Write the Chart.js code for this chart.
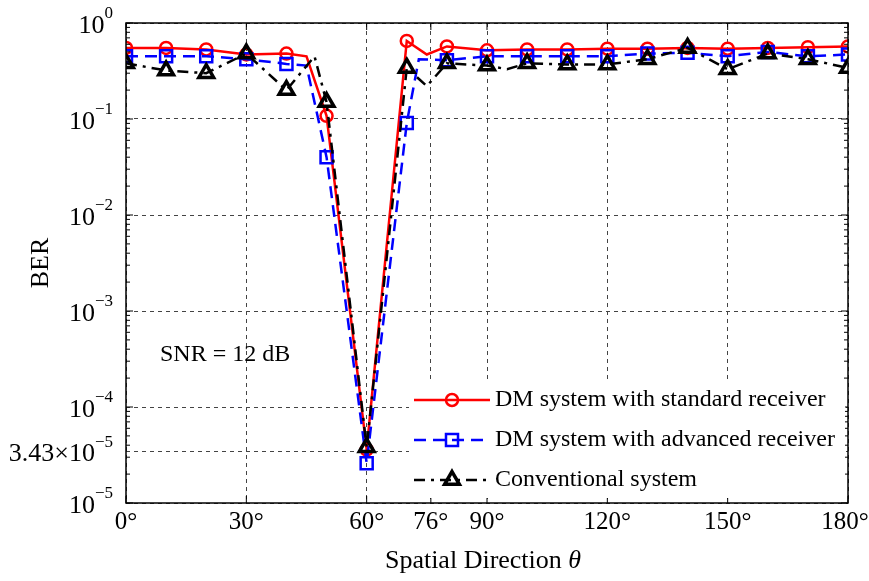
<!DOCTYPE html>
<html>
<head>
<meta charset="utf-8">
<script src="https://cdn.jsdelivr.net/npm/chart.js@4.4.0/dist/chart.umd.min.js"></script>
<style>
  html, body { margin: 0; padding: 0; background: #fff; }
</style>
</head>
<body>
<canvas id="berChart" width="869" height="581"></canvas>
<script>
// Datos (ángulo en grados, BER)
const angStd = [0, 10, 20, 30, 40, 45, 50, 60, 70, 75, 80, 90, 100, 110, 120, 130, 140, 150, 160, 170, 180];
const berStd = [0.55, 0.55, 0.53, 0.47, 0.48, 0.45, 0.108, 3.6e-5, 0.65, 0.47, 0.57, 0.52, 0.53, 0.53, 0.54, 0.54, 0.55, 0.54, 0.55, 0.56, 0.57];

const angAdv = [0, 10, 20, 30, 40, 45, 50, 60, 70, 73, 80, 90, 100, 110, 120, 130, 140, 150, 160, 170, 180];
const berAdv = [0.45, 0.45, 0.45, 0.42, 0.375, 0.36, 0.04, 2.6e-5, 0.091, 0.42, 0.41, 0.45, 0.45, 0.45, 0.45, 0.48, 0.49, 0.45, 0.5, 0.45, 0.47];

const angConv = [0, 10, 20, 30, 40, 47, 50, 60, 70, 75, 80, 90, 95, 100, 110, 120, 130, 140, 150, 160, 170, 180];
const berConv = [0.38, 0.32, 0.30, 0.48, 0.2, 0.45, 0.15, 3.8e-5, 0.34, 0.22, 0.38, 0.36, 0.33, 0.38, 0.37, 0.37, 0.42, 0.55, 0.33, 0.48, 0.42, 0.34];

const xTickValues = [0, 30, 60, 76, 90, 120, 150, 180];
const yTickValues = [1, 0.1, 0.01, 0.001, 1e-4, 3.43e-5, 1e-5];
const yTickMant = ['', '', '', '', '', '3.43×', ''];
const yTickExp = ['0', '−1', '−2', '−3', '−4', '−5', '−5'];

const serie = ['DM system with standard receiver', 'DM system with advanced receiver', 'Conventional system'];

const FUENTE = '"Liberation Serif", "Times New Roman", serif';

function aPuntos(xs, ys) {
    return xs.map((x, i) => ({ x: x, y: ys[i] }));
}

// Marcadores sólo cada 10 grados
function radioMarcador(r) {
    return ctx => (ctx.raw && ctx.raw.x % 10 === 0 ? r : 0);
}

function dibujarPotencia(ctx, xDer, y, mant, exp) {
    const fBase = '26px ' + FUENTE;
    const fExp = '17px ' + FUENTE;
    ctx.font = fExp;
    const ew = ctx.measureText(exp).width;
    ctx.font = fBase;
    const txt = mant + '10';
    const bw = ctx.measureText(txt).width;
    ctx.textAlign = 'left';
    ctx.textBaseline = 'middle';
    ctx.fillText(txt, xDer - ew - bw, y + 3);
    ctx.font = fExp;
    ctx.fillText(exp, xDer - ew, y - 9);
}

const decoracion = {
    id: 'decoracion',
    beforeDraw(chart) {
        const ctx = chart.ctx;
        ctx.save();
        ctx.fillStyle = '#fff';
        ctx.fillRect(0, 0, chart.width, chart.height);
        ctx.restore();
    },
    afterDraw(chart) {
        const ctx = chart.ctx;
        const a = chart.chartArea;
        const xs = chart.scales.x;
        const ys = chart.scales.y;
        ctx.save();

        // marcas de los ejes hacia dentro
        ctx.strokeStyle = '#000';
        ctx.lineWidth = 1;
        ctx.beginPath();
        xTickValues.forEach(v => {
            const px = xs.getPixelForValue(v);
            ctx.moveTo(px, a.bottom); ctx.lineTo(px, a.bottom - 7);
            ctx.moveTo(px, a.top); ctx.lineTo(px, a.top + 7);
        });
        for (let k = -5; k <= 0; k++) {
            const py = ys.getPixelForValue(Math.pow(10, k));
            ctx.moveTo(a.left, py); ctx.lineTo(a.left + 7, py);
            ctx.moveTo(a.right, py); ctx.lineTo(a.right - 7, py);
            if (k < 0) {
                for (let m = 2; m <= 9; m++) {
                    const pm = ys.getPixelForValue(m * Math.pow(10, k));
                    ctx.moveTo(a.left, pm); ctx.lineTo(a.left + 4, pm);
                    ctx.moveTo(a.right, pm); ctx.lineTo(a.right - 4, pm);
                }
            }
        }
        ctx.stroke();

        // marco
        ctx.lineWidth = 1.5;
        ctx.strokeRect(a.left, a.top, a.right - a.left, a.bottom - a.top);

        // etiquetas del eje y
        ctx.fillStyle = '#000';
        yTickValues.forEach((v, i) => {
            dibujarPotencia(ctx, 113, ys.getPixelForValue(v), yTickMant[i], yTickExp[i]);
        });

        // etiquetas del eje x
        ctx.font = '25px ' + FUENTE;
        ctx.textAlign = 'center';
        ctx.textBaseline = 'middle';
        xTickValues.forEach((v, i) => {
            const ajuste = i === xTickValues.length - 1 ? -3 : 0;
            ctx.fillText(v + '°', xs.getPixelForValue(v) + ajuste, a.bottom + 19);
        });

        // títulos
        const t1 = 'Spatial Direction ';
        ctx.font = 'italic 26px ' + FUENTE;
        const wth = ctx.measureText('θ').width;
        ctx.font = '26px ' + FUENTE;
        const w1 = ctx.measureText(t1).width;
        const xIni = (a.left + a.right) / 2 - (w1 + wth) / 2 - 4;
        ctx.textAlign = 'left';
        ctx.fillText(t1, xIni, 561);
        ctx.font = 'italic 26px ' + FUENTE;
        ctx.fillText('θ', xIni + w1, 561);

        ctx.save();
        ctx.translate(41, (a.top + a.bottom) / 2);
        ctx.rotate(-Math.PI / 2);
        ctx.font = '26px ' + FUENTE;
        ctx.textAlign = 'center';
        ctx.fillText('BER', 0, 0);
        ctx.restore();

        ctx.font = '24px ' + FUENTE;
        ctx.textAlign = 'left';
        ctx.fillText('SNR = 12 dB', 160, 355);

        // leyenda
        ctx.fillStyle = '#fff';
        ctx.fillRect(409, 382, 436, 116);
        const filas = [400, 440, 480];
        const estilos = [
            { color: '#ff0000', dash: [], pointStyle: 'circle', radius: 6, borderWidth: 2.5 },
            { color: '#0000ff', dash: [12, 7], pointStyle: 'rect', radius: 8.5, borderWidth: 2.5 },
            { color: '#000000', dash: [11, 6, 3, 6], pointStyle: 'triangle', radius: 8.5, borderWidth: 3.5 }
        ];
        estilos.forEach((e, i) => {
            ctx.save();
            ctx.strokeStyle = e.color;
            ctx.fillStyle = 'rgba(0,0,0,0)';
            ctx.lineWidth = 2.5;
            ctx.setLineDash(e.dash);
            ctx.beginPath();
            ctx.moveTo(414, filas[i]);
            ctx.lineTo(490, filas[i]);
            ctx.stroke();
            ctx.setLineDash([]);
            ctx.lineWidth = e.borderWidth;
            Chart.helpers.drawPoint(ctx, { pointStyle: e.pointStyle, radius: e.radius, borderWidth: e.borderWidth }, 452, filas[i]);
            ctx.restore();
            ctx.fillStyle = '#000';
            ctx.font = '24px ' + FUENTE;
            ctx.textAlign = 'left';
            ctx.textBaseline = 'middle';
            ctx.fillText(serie[i], 495, filas[i]);
        });

        ctx.restore();
    }
};

const ctx = document.getElementById('berChart').getContext('2d');

new Chart(ctx, {
    type: 'line',
    data: {
        datasets: [{
            label: serie[0],
            data: aPuntos(angStd, berStd),
            borderColor: '#ff0000',
            borderWidth: 2.5,
            pointStyle: 'circle',
            pointRadius: radioMarcador(6),
            pointBorderColor: '#ff0000',
            pointBackgroundColor: 'rgba(0,0,0,0)',
            pointBorderWidth: 2.5,
            order: 3
        }, {
            label: serie[1],
            data: aPuntos(angAdv, berAdv),
            borderColor: '#0000ff',
            borderWidth: 2.5,
            borderDash: [12, 7],
            pointStyle: 'rect',
            pointRadius: radioMarcador(8.5),
            pointBorderColor: '#0000ff',
            pointBackgroundColor: 'rgba(0,0,0,0)',
            pointBorderWidth: 2.5,
            order: 2
        }, {
            label: serie[2],
            data: aPuntos(angConv, berConv),
            borderColor: '#000000',
            borderWidth: 2.5,
            borderDash: [11, 6, 3, 6],
            pointStyle: 'triangle',
            pointRadius: radioMarcador(8.5),
            pointBorderColor: '#000000',
            pointBackgroundColor: 'rgba(0,0,0,0)',
            pointBorderWidth: 3.5,
            order: 1
        }]
    },
    options: {
        responsive: false,
        animation: false,
        devicePixelRatio: 1,
        layout: { padding: { top: 23, right: 21, left: 0, bottom: 0 } },
        plugins: {
            legend: { display: false },
            tooltip: { enabled: false }
        },
        elements: { line: { tension: 0, fill: false } },
        scales: {
            x: {
                type: 'linear',
                min: 0,
                max: 180,
                afterBuildTicks: s => { s.ticks = xTickValues.map(v => ({ value: v })); },
                afterFit: s => { s.height = 78; },
                ticks: { display: false },
                grid: { color: '#444', lineWidth: 1, drawTicks: false },
                border: { display: false, dash: [4, 4] }
            },
            y: {
                type: 'logarithmic',
                min: 1e-5,
                max: 1,
                afterBuildTicks: s => { s.ticks = yTickValues.map(v => ({ value: v })); },
                afterFit: s => { s.width = 126; },
                ticks: { display: false },
                grid: { color: '#444', lineWidth: 1, drawTicks: false },
                border: { display: false, dash: [4, 4] }
            }
        }
    },
    plugins: [decoracion]
});
</script>
</body>
</html>
